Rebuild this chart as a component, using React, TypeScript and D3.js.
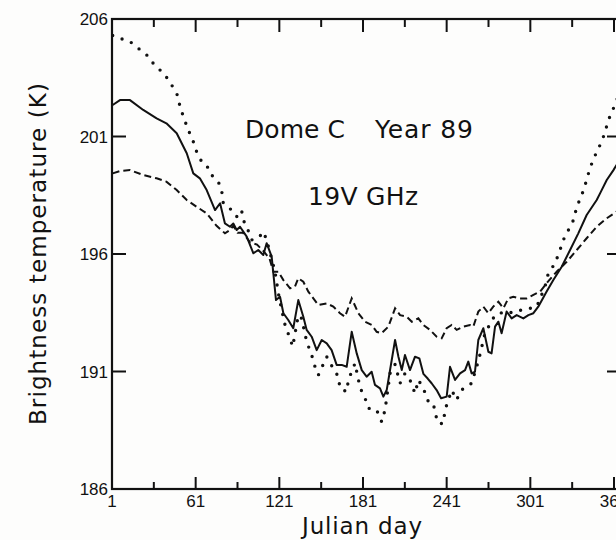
import React from "react";
import * as d3 from "d3";

// ---- data ----
const solidDay = [1.5, 6.7, 13.9, 23.4, 33, 40, 47.4, 54.6, 59.3, 64, 68.9, 74.9, 78.5, 82, 85.6, 88, 90.4, 92.8, 97.6, 102.4, 105.9, 109.5, 111.9, 115.5, 116.7, 118.6, 121.5, 123.9, 127.4, 131, 134.6, 138.2, 140.6, 144.2, 147.8, 151.4, 155, 158.5, 162.1, 165.7, 169.3, 172.9, 176.5, 180.1, 183.6, 187.2, 189.6, 193.2, 195.6, 198, 201.6, 204, 206.4, 208.8, 211.1, 214.7, 218.3, 221.4, 224.3, 227.4, 230.2, 233.8, 237, 241, 243.4, 247, 250.6, 254.2, 256.5, 258.9, 261.3, 263.7, 267.3, 270.9, 273.2, 275.7, 278.1, 280.4, 284, 287.6, 291.2, 296, 299.6, 303.2, 306.7, 312.7, 317.5, 323.5, 329.5, 335.4, 341.4, 348.6, 351, 355.8, 360.6, 364];
const solidTemp = [202.34, 202.55, 202.55, 202.13, 201.77, 201.56, 201.14, 200.29, 199.43, 199.22, 198.72, 197.87, 198.16, 197.3, 197.16, 197.3, 197.02, 197.16, 196.74, 196.03, 196.17, 195.96, 196.46, 195.89, 195.18, 194.04, 194.18, 193.48, 193.19, 192.84, 194.04, 193.33, 192.77, 192.48, 191.91, 192.34, 192.2, 191.91, 191.28, 191.28, 191.2, 192.69, 191.77, 191.06, 190.78, 190.99, 190.43, 190.28, 189.93, 190.21, 191.49, 192.34, 191.63, 191.06, 191.7, 191.06, 191.63, 191.56, 190.9, 190.7, 190.5, 190.21, 189.86, 189.93, 191.2, 190.64, 190.92, 191.06, 191.42, 190.92, 190.99, 192.34, 192.84, 191.84, 191.77, 192.91, 193.12, 192.63, 193.55, 193.26, 193.4, 193.26, 193.4, 193.48, 193.76, 194.4, 194.89, 195.46, 196.17, 196.88, 197.66, 198.3, 198.58, 199.15, 199.57, 199.9];

const dashDay = [1.5, 6.7, 13.9, 23.4, 33, 40, 47.4, 54.6, 61.7, 68.9, 76, 82, 85.6, 88, 91, 95, 100, 105, 110, 114, 116.7, 120.3, 123.9, 128.7, 132.2, 134.6, 138.2, 141.8, 145.4, 149, 155, 159.7, 164.5, 168.1, 172.9, 177.7, 182.5, 187.2, 190.8, 194.4, 199.2, 204, 207.6, 212.4, 216, 220.7, 224.3, 229.1, 233.8, 237.4, 241, 244.6, 248.2, 253, 257.7, 260.1, 263.7, 267.3, 270.9, 274.4, 278.1, 281.7, 285.2, 288.8, 293.6, 298.4, 303.2, 308, 312.7, 319.9, 327.1, 334.3, 341.4, 348.6, 355.8, 364];
const dashTemp = [199.43, 199.53, 199.57, 199.36, 199.22, 199.08, 198.72, 198.3, 198.01, 197.73, 197.2, 196.88, 197.02, 197.2, 196.9, 196.9, 196.5, 196.4, 196.1, 195.8, 195.25, 195.25, 194.89, 194.54, 194.61, 194.97, 194.82, 194.4, 194.11, 193.83, 193.9, 193.76, 193.48, 193.33, 194.11, 193.48, 193.12, 192.98, 192.69, 192.63, 192.91, 193.69, 193.4, 193.33, 193.12, 193.26, 192.98, 192.77, 192.48, 192.41, 192.84, 192.98, 192.77, 192.91, 192.98, 192.91, 193.55, 193.76, 193.48, 193.76, 193.97, 193.69, 194.11, 194.18, 194.11, 194.11, 194.26, 194.4, 194.76, 195.25, 195.67, 196.17, 196.67, 197.16, 197.52, 197.85];

const dotDay = [1.5, 6.7, 13.9, 19.9, 25.9, 29.5, 34.2, 39, 43.8, 47.8, 49.8, 52.6, 55.7, 59.3, 61.7, 65.3, 68.9, 71.3, 77.2, 79.6, 80.8, 86.8, 90.4, 93.9, 95.1, 97.6, 101.2, 105.9, 109.5, 111.9, 117.9, 120.3, 122.7, 125.1, 128.2, 130.6, 134.6, 137, 140.6, 144.2, 146.6, 149, 155, 159, 163.3, 164.5, 169.3, 170.5, 175.3, 177.7, 180.1, 182.5, 184.9, 188.4, 190.8, 194.4, 196.8, 200.4, 204, 207.6, 211.1, 214.7, 218.3, 220.7, 224.3, 227.9, 231.5, 232.7, 235.1, 238.6, 239.8, 244.6, 248.2, 250.6, 253, 258.9, 264, 268.5, 275.7, 282.8, 288, 294.8, 300.8, 305.6, 311.5, 313.9, 318.7, 322.3, 324.7, 328.3, 332, 334.3, 337.9, 340.3, 342.7, 345.1, 348.6, 352.2, 354.6, 357, 360.6, 364];
const dotTemp = [205.3, 205.18, 205.04, 204.75, 204.47, 204.18, 203.9, 203.62, 203.19, 202.77, 202.27, 201.77, 201.28, 200.78, 200.35, 199.93, 199.79, 199.43, 199.08, 198.72, 198.16, 197.87, 197.59, 197.87, 197.45, 197.16, 196.6, 196.67, 196.95, 196.6, 195.25, 194.33, 193.62, 192.98, 192.48, 192.06, 193.4, 193.26, 192.27, 191.7, 191.2, 190.85, 191.63, 191.2, 190.78, 190.28, 190.14, 190.64, 191.35, 190.64, 190.14, 189.86, 189.43, 189.43, 189.36, 188.86, 189.36, 190.92, 191.3, 190.5, 190.92, 190.64, 190.07, 190.64, 190.28, 189.71, 189.64, 189.22, 188.79, 188.79, 189.36, 190.21, 189.79, 190.14, 190.28, 190.5, 191.5, 192.63, 193.4, 193.55, 193.5, 193.62, 193.69, 193.76, 194.61, 195.18, 195.6, 196.17, 196.6, 197.02, 197.45, 198.01, 198.51, 198.94, 199.43, 199.86, 200.35, 200.78, 201.2, 201.7, 202.2, 202.7];

const xMajorTicks = [1, 61, 121, 181, 241, 301, 361];
const xMinorTicks = [31, 91, 151, 211, 271, 331];
const yTicks = [186, 191, 196, 201, 206];

const titleLine1a = "Dome C";
const titleLine1b = "Year 89";
const titleLine2 = "19V GHz";
const xLabel = "Julian day";
const yLabel = "Brightness temperature (K)";

export default function App() {
  const W = 616;
  const H = 540;
  const x = d3.scaleLinear().domain([1, 361]).range([112, 614]);
  const y = d3.scaleLinear().domain([186, 206]).range([489, 19]);
  const xEnd = x(366);
  const left = x(1);
  const top = y(206);
  const bottom = y(186);

  const line = d3
    .line<[number, number]>()
    .x((d) => x(d[0]))
    .y((d) => y(d[1]));

  const solid = line(solidDay.map((d, i) => [d, solidTemp[i]]) as [number, number][]) || "";
  const dashed = line(dashDay.map((d, i) => [d, dashTemp[i]]) as [number, number][]) || "";
  const dotted = line(dotDay.map((d, i) => [d, dotTemp[i]]) as [number, number][]) || "";

  const tickFont = "'Liberation Sans', Arial, sans-serif";
  const labelFont = "'DejaVu Sans', sans-serif";

  return (
    <div style={{ position: "fixed", left: 0, top: 0 }}>
      <svg width={W} height={H} style={{ display: "block", background: "#fdfdfc" }}>
        <defs>
          <clipPath id="plot">
            <rect x={left} y={top} width={xEnd - left} height={bottom - top} />
          </clipPath>
        </defs>
        <g clipPath="url(#plot)" fill="none" stroke="#111">
          <path d={dotted} strokeWidth={3.4} strokeLinecap="round" strokeDasharray="0 10" />
          <path d={dashed} strokeWidth={2} strokeDasharray="7 4" />
          <path d={solid} strokeWidth={2} strokeLinejoin="round" />
        </g>
        {/* frame */}
        <rect x={left} y={top} width={xEnd - left} height={bottom - top} fill="none" stroke="#111" strokeWidth={2.2} />
        {/* x ticks (bottom and top) */}
        {xMajorTicks.map((t) => (
          <g key={"xM" + t} stroke="#111" strokeWidth={2}>
            <line x1={x(t)} x2={x(t)} y1={bottom} y2={bottom - 12} />
            <line x1={x(t)} x2={x(t)} y1={top} y2={top + 13} />
          </g>
        ))}
        {xMinorTicks.map((t) => (
          <g key={"xm" + t} stroke="#111" strokeWidth={2}>
            <line x1={x(t)} x2={x(t)} y1={bottom} y2={bottom - 7} />
            <line x1={x(t)} x2={x(t)} y1={top} y2={top + 8} />
          </g>
        ))}
        {/* y ticks (left and right) */}
        {yTicks.map((t) => (
          <g key={"y" + t} stroke="#111" strokeWidth={2}>
            <line x1={left} x2={left + 14} y1={y(t)} y2={y(t)} />
            <line x1={xEnd} x2={xEnd - 14} y1={y(t)} y2={y(t)} />
          </g>
        ))}
        {/* tick labels */}
        {xMajorTicks.map((t) => (
          <text key={"xl" + t} x={x(t)} y={507} textAnchor="middle" fontFamily={tickFont} fontSize={17} fill="#111">
            {t}
          </text>
        ))}
        {yTicks.map((t) => (
          <text key={"yl" + t} x={left - 4} y={y(t) + 6} textAnchor="end" fontFamily={tickFont} fontSize={17} fill="#111">
            {t}
          </text>
        ))}
        {/* annotations */}
        <text x={245} y={138} fontFamily={labelFont} fontSize={25} fill="#111" textLength={100} lengthAdjust="spacing">
          {titleLine1a}
        </text>
        <text x={375} y={138} fontFamily={labelFont} fontSize={25} fill="#111" textLength={98} lengthAdjust="spacing">
          {titleLine1b}
        </text>
        <text x={308} y={205} fontFamily={labelFont} fontSize={25} fill="#111" textLength={110} lengthAdjust="spacing">
          {titleLine2}
        </text>
        <text x={302} y={534} fontFamily={labelFont} fontSize={23} fill="#111" textLength={120} lengthAdjust="spacing">
          {xLabel}
        </text>
        <text
          transform={`translate(46, 254) rotate(-90)`}
          textAnchor="middle"
          fontFamily={labelFont}
          fontSize={23}
          fill="#111"
          textLength={342}
          lengthAdjust="spacing"
        >
          {yLabel}
        </text>
      </svg>
    </div>
  );
}
